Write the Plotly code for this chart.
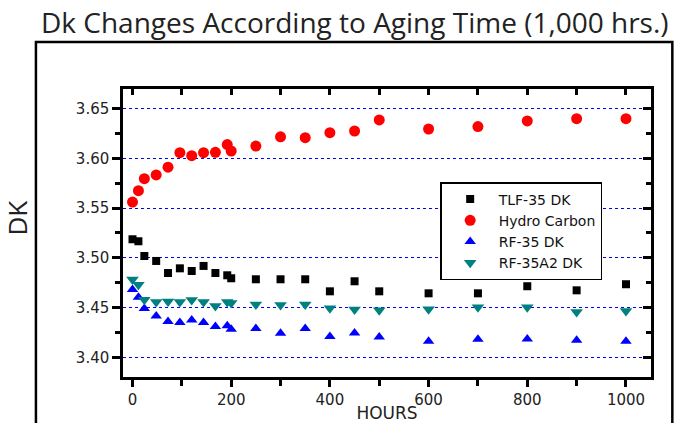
import plotly.graph_objects as go

hours = [0, 12, 24, 48, 72, 96, 120, 144, 168, 192, 200, 250, 300, 350, 400, 450, 500, 600, 700, 800, 900, 1000]

tlf35 = [3.5186, 3.5166, 3.5018, 3.4968, 3.4847, 3.4894, 3.4867, 3.4918, 3.4847, 3.4824, 3.4794,
         3.4784, 3.4784, 3.4784, 3.4663, 3.4764, 3.4663, 3.4643, 3.4643, 3.4714, 3.4673, 3.4734]
hydro = [3.5560, 3.5674, 3.5795, 3.5832, 3.5910, 3.6056, 3.6026, 3.6056, 3.6060, 3.6138, 3.6073,
         3.6123, 3.6215, 3.6207, 3.6257, 3.6274, 3.6385, 3.6294, 3.6318, 3.6375, 3.6398, 3.6398]
rf35 = [3.4681, 3.4604, 3.4491, 3.4416, 3.4360, 3.4350, 3.4376, 3.4350, 3.4310, 3.4316, 3.4282,
        3.4290, 3.4242, 3.4290, 3.4209, 3.4245, 3.4205, 3.4162, 3.4182, 3.4185, 3.4172, 3.4162]
rf35a2 = [3.4782, 3.4729, 3.4578, 3.4555, 3.4561, 3.4555, 3.4575, 3.4555, 3.4515, 3.4555, 3.4545,
          3.4531, 3.4525, 3.4531, 3.4494, 3.4480, 3.4474, 3.4484, 3.4504, 3.4504, 3.4454, 3.4464]

series_names = ["TLF-35 DK", "Hydro Carbon", "RF-35 DK", "RF-35A2 DK"]
x_ticks = [0, 200, 400, 600, 800, 1000]

fig = go.Figure()
fig.add_trace(go.Scatter(x=hours, y=tlf35, mode="markers", name=series_names[0],
                         marker=dict(symbol="square", size=8, color="#000000")))
fig.add_trace(go.Scatter(x=hours, y=hydro, mode="markers", name=series_names[1],
                         marker=dict(symbol="circle", size=11, color="#ff0000")))
fig.add_trace(go.Scatter(x=hours, y=rf35, mode="markers", name=series_names[2],
                         marker=dict(symbol="triangle-up", size=10, color="#0000ff")))
fig.add_trace(go.Scatter(x=hours, y=rf35a2, mode="markers", name=series_names[3],
                         marker=dict(symbol="triangle-down", size=11, color="#008080")))
# helper trace so the mirrored inside-tick axes render
fig.add_trace(go.Scatter(x=[None], y=[None], xaxis="x2", yaxis="y2", showlegend=False,
                         hoverinfo="skip", mode="markers"))

xr = [-19.25, 1050.7]
yr = [3.3802, 3.6696]
tickfont = dict(family="DejaVu Sans", size=15, color="#222222")

fig.update_layout(
    width=674, height=423,
    margin=dict(l=123, r=23, t=89, b=46, autoexpand=False),
    paper_bgcolor="white", plot_bgcolor="white",
    showlegend=True,
    xaxis=dict(range=xr, tickvals=x_ticks, ticks="outside", ticklen=7, tickwidth=2.5,
               tickcolor="black", showline=True, linewidth=2.5, linecolor="black",
               showgrid=False, zeroline=False, tickfont=tickfont, automargin=False,
               minor=dict(dtick=100, tick0=0, ticks="outside", ticklen=6, tickwidth=2.5,
                          tickcolor="black", showgrid=False),
               title=dict(text="HOURS", font=dict(family="DejaVu Sans", size=17, color="#222222"),
                          standoff=4)),
    yaxis=dict(range=yr, dtick=0.05, tick0=3.40, tickformat=".2f", ticks="outside", ticklen=8,
               tickwidth=2.5, tickcolor="black", showline=True, linewidth=2.5, linecolor="black",
               showgrid=True, gridcolor="#0000ff", griddash="dot", gridwidth=1, zeroline=False,
               tickfont=tickfont, automargin=False,
               minor=dict(dtick=0.025, tick0=3.40, ticks="outside", ticklen=5, tickwidth=2.5,
                          tickcolor="black", showgrid=False)),
    xaxis2=dict(range=xr, overlaying="x", side="top", dtick=100, tick0=0, ticks="inside",
                ticklen=6, tickwidth=2.5, tickcolor="black", showticklabels=False,
                showline=True, linewidth=2.5, linecolor="black", showgrid=False, zeroline=False,
                automargin=False),
    yaxis2=dict(range=yr, overlaying="y", side="right", dtick=0.05, tick0=3.40, ticks="inside",
                ticklen=8, tickwidth=2.5, tickcolor="black", showticklabels=False,
                showline=True, linewidth=2.5, linecolor="black", showgrid=False, zeroline=False,
                automargin=False,
                minor=dict(dtick=0.025, tick0=3.40, ticks="inside", ticklen=5, tickwidth=2.5,
                           tickcolor="black", showgrid=False)),
    legend=dict(x=0.6007, y=0.677, xanchor="left", yanchor="top", bgcolor="white",
                bordercolor="black", borderwidth=1.5,
                font=dict(family="DejaVu Sans", size=14, color="#111111"),
                tracegroupgap=0, itemwidth=47),
    shapes=[dict(type="rect", xref="paper", yref="paper", x0=-0.1649, x1=1.0404,
                 y0=-0.5, y1=1.1634, line=dict(color="black", width=2.5), layer="below")],
    annotations=[
        dict(text="Dk Changes According to Aging Time (1,000 hrs.)", xref="paper", yref="paper",
             x=0.4396, y=1.2329, xanchor="center", yanchor="middle", showarrow=False,
             font=dict(family="Open Sans", size=28, color="#222222")),
        dict(text="DK", xref="paper", yref="paper", x=-0.2, y=0.5516, xanchor="center",
             yanchor="middle", showarrow=False, textangle=-90,
             font=dict(family="Open Sans", size=26, color="#222222")),
    ],
)

fig.write_html("out.html", config={"displayModeBar": False},
               post_script="document.body.style.margin='0px';document.body.style.overflow='hidden';")
